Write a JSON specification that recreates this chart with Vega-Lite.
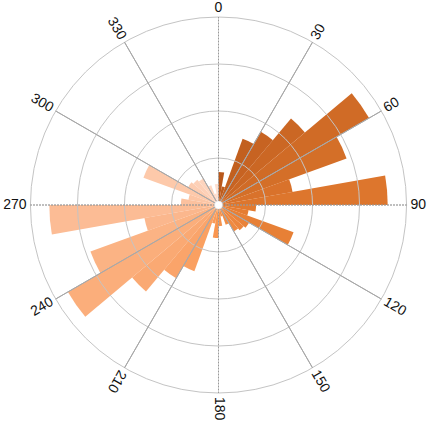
{
  "$schema": "https://vega.github.io/schema/vega-lite/v6.json",
  "width": 421,
  "height": 410,
  "autosize": "none",
  "padding": {"left": 8, "top": 0, "right": 0, "bottom": 14},
  "background": "white",
  "config": {"view": {"stroke": null}},
  "resolve": {"scale": {"angle": "independent"}},
  "datasets": {
    "bins": [
      {"start": 0, "end": 10, "value": 7},
      {"start": 10, "end": 20, "value": 4},
      {"start": 20, "end": 30, "value": 15},
      {"start": 30, "end": 40, "value": 18},
      {"start": 40, "end": 50, "value": 24},
      {"start": 50, "end": 60, "value": 37},
      {"start": 60, "end": 70, "value": 29},
      {"start": 70, "end": 80, "value": 16},
      {"start": 80, "end": 90, "value": 36},
      {"start": 90, "end": 100, "value": 8},
      {"start": 100, "end": 110, "value": 6.5},
      {"start": 110, "end": 120, "value": 17},
      {"start": 120, "end": 130, "value": 7.5},
      {"start": 130, "end": 140, "value": 7},
      {"start": 140, "end": 150, "value": 6.5},
      {"start": 150, "end": 160, "value": 4.5},
      {"start": 160, "end": 170, "value": 2.5},
      {"start": 170, "end": 180, "value": 4.5},
      {"start": 180, "end": 190, "value": 7},
      {"start": 190, "end": 200, "value": 4},
      {"start": 200, "end": 210, "value": 15},
      {"start": 210, "end": 220, "value": 18},
      {"start": 220, "end": 230, "value": 24},
      {"start": 230, "end": 240, "value": 37},
      {"start": 240, "end": 250, "value": 29},
      {"start": 250, "end": 260, "value": 16},
      {"start": 260, "end": 270, "value": 36},
      {"start": 270, "end": 280, "value": 8},
      {"start": 280, "end": 290, "value": 6.5},
      {"start": 290, "end": 300, "value": 17},
      {"start": 300, "end": 310, "value": 7.5},
      {"start": 310, "end": 320, "value": 7},
      {"start": 320, "end": 330, "value": 6.5},
      {"start": 330, "end": 340, "value": 4.5},
      {"start": 340, "end": 350, "value": 2.5},
      {"start": 350, "end": 360, "value": 4.5}
    ],
    "rings": [{"r": 10}, {"r": 20}, {"r": 30}, {"r": 40}],
    "spokes": [
      {"deg": 0}, {"deg": 30}, {"deg": 60}, {"deg": 90}, {"deg": 120}, {"deg": 150},
      {"deg": 180}, {"deg": 210}, {"deg": 240}, {"deg": 270}, {"deg": 300}, {"deg": 330}
    ],
    "hub": [{"part": "hub"}]
  },
  "layer": [
    {
      "data": {"name": "bins"},
      "mark": {"type": "arc", "strokeWidth": 0},
      "encoding": {
        "theta": {"field": "start", "type": "quantitative", "stack": null, "scale": {"domain": [0, 360], "range": [0, 6.283185307179586]}},
        "theta2": {"field": "end"},
        "radius": {"field": "value", "type": "quantitative", "stack": null, "scale": {"type": "linear", "domain": [0, 40], "range": [0, 188], "zero": true}},
        "color": {
          "field": "start", "type": "quantitative", "legend": null,
          "scale": {"type": "linear", "domain": [0, 90, 180, 270, 350], "range": ["#b9581b", "#e27a2f", "#f99650", "#fcc19e", "#fedfcf"], "interpolate": "rgb"}
        }
      }
    },
    {
      "data": {"name": "rings"},
      "mark": {"type": "arc", "filled": false, "stroke": "#c4c4c4", "strokeWidth": 1},
      "encoding": {
        "theta": {"datum": 0, "type": "quantitative"},
        "theta2": {"datum": 360},
        "radius": {"field": "r", "type": "quantitative", "stack": null, "scale": {"type": "linear", "domain": [0, 40], "range": [0, 188], "zero": true}}
      }
    },
    {
      "data": {"name": "spokes"},
      "transform": [{"filter": "datum.deg % 90 != 0"}],
      "mark": {"type": "arc", "filled": false, "stroke": "#a8a8a8", "strokeWidth": 1},
      "encoding": {
        "theta": {"field": "deg", "type": "quantitative", "stack": null},
        "theta2": {"field": "deg"},
        "radius": {"datum": 40, "type": "quantitative", "stack": null, "scale": {"type": "linear", "domain": [0, 40], "range": [0, 188], "zero": true}}
      }
    },
    {
      "data": {"name": "spokes"},
      "transform": [{"filter": "datum.deg % 90 == 0"}],
      "mark": {"type": "arc", "filled": false, "stroke": "#999999", "strokeWidth": 1, "strokeDash": [1.5, 1.5]},
      "encoding": {
        "theta": {"field": "deg", "type": "quantitative", "stack": null},
        "theta2": {"field": "deg"},
        "radius": {"datum": 40, "type": "quantitative", "stack": null, "scale": {"type": "linear", "domain": [0, 40], "range": [0, 188], "zero": true}}
      }
    },
    {
      "data": {"name": "hub"},
      "mark": {"type": "arc", "fill": "white", "stroke": "#dddddd", "strokeWidth": 0.5},
      "encoding": {
        "theta": {"datum": 0, "type": "quantitative"},
        "theta2": {"datum": 360},
        "radius": {"value": 4}
      }
    },
    {
      "data": {"name": "spokes"},
      "transform": [{"filter": "datum.deg >= 30 && datum.deg <= 210"}],
      "mark": {"type": "text", "radiusOffset": 4, "fontSize": 14, "font": "Liberation Sans", "color": "#111111", "align": "left", "baseline": "middle"},
      "encoding": {
        "theta": {"field": "deg", "type": "quantitative"},
        "radius": {"datum": 40, "type": "quantitative", "stack": null, "scale": {"type": "linear", "domain": [0, 40], "range": [0, 188], "zero": true}},
        "text": {"field": "deg", "type": "nominal"},
        "angle": {
          "field": "deg", "type": "quantitative", "legend": null,
          "scale": {"type": "linear", "domain": [0, 360], "range": [-90, 270], "zero": false, "nice": false}
        }
      }
    },
    {
      "data": {"name": "spokes"},
      "transform": [{"filter": "datum.deg >= 240"}],
      "mark": {"type": "text", "radiusOffset": 4, "fontSize": 14, "font": "Liberation Sans", "color": "#111111", "align": "right", "baseline": "middle"},
      "encoding": {
        "theta": {"field": "deg", "type": "quantitative"},
        "radius": {"datum": 40, "type": "quantitative", "stack": null, "scale": {"type": "linear", "domain": [0, 40], "range": [0, 188], "zero": true}},
        "text": {"field": "deg", "type": "nominal"},
        "angle": {
          "field": "deg", "type": "quantitative", "legend": null,
          "scale": {"type": "linear", "domain": [0, 360], "range": [-270, 90], "zero": false, "nice": false}
        }
      }
    },
    {
      "data": {"name": "spokes"},
      "transform": [{"filter": "datum.deg == 0"}],
      "mark": {"type": "text", "radiusOffset": 5, "fontSize": 14, "font": "Liberation Sans", "color": "#111111", "align": "center", "baseline": "alphabetic"},
      "encoding": {
        "theta": {"field": "deg", "type": "quantitative"},
        "radius": {"datum": 40, "type": "quantitative", "stack": null, "scale": {"type": "linear", "domain": [0, 40], "range": [0, 188], "zero": true}},
        "text": {"field": "deg", "type": "nominal"}
      }
    }
  ]
}
